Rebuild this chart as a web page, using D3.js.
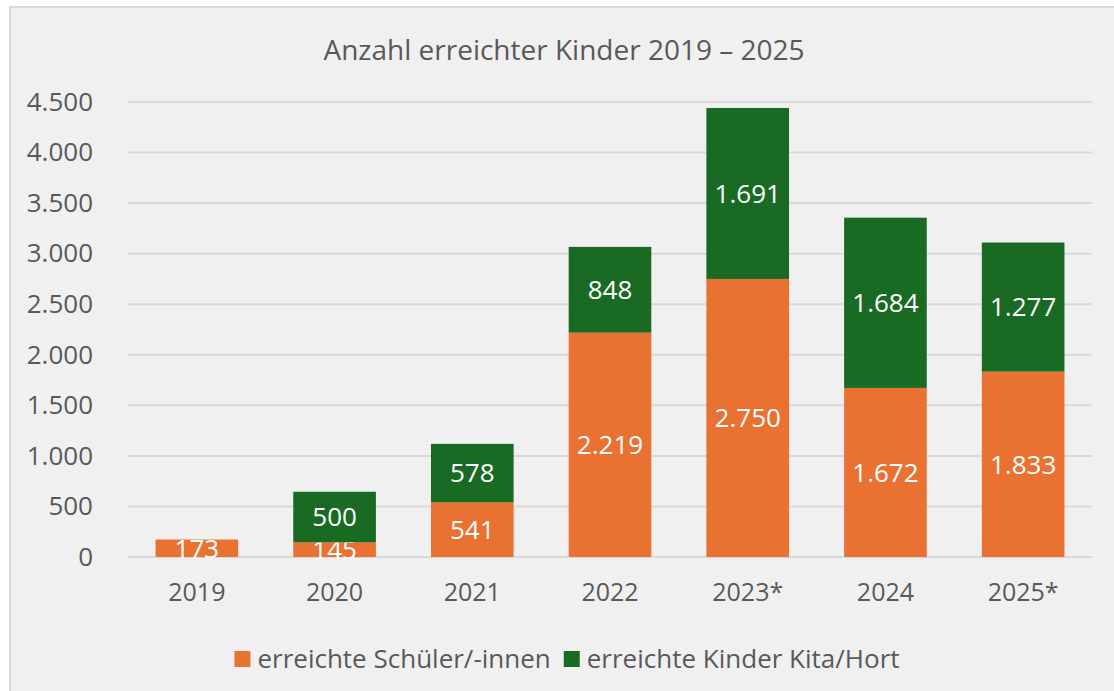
<!DOCTYPE html>
<html>
<head>
<meta charset="utf-8">
<script src="https://cdn.jsdelivr.net/npm/d3@7"></script>
<style>
  body { margin: 0; background: #ffffff; }
  text { font-family: "Open Sans", "Noto Sans", sans-serif; }
</style>
</head>
<body>
<div id="chart"></div>
<script>
// data
var years = ["2019", "2020", "2021", "2022", "2023*", "2024", "2025*"];
var schueler = [173, 145, 541, 2219, 2750, 1672, 1833];
var kita = [0, 500, 578, 848, 1691, 1684, 1277];
var yTicks = [0, 500, 1000, 1500, 2000, 2500, 3000, 3500, 4000, 4500];
var seriesNames = ["erreichte Schüler/-innen", "erreichte Kinder Kita/Hort"];
var colors = ["#E97132", "#196B24"];

var W = 1114, H = 691;
var margin = {top: 102, right: 22, bottom: 134, left: 128};
var width = W - margin.left - margin.right,
    height = H - margin.top - margin.bottom;

var fmt = d3.formatLocale({decimal: ",", thousands: ".", grouping: [3], currency: ["", "€"]}).format(",.0f");

var svg = d3.select("#chart").append("svg")
  .attr("width", W)
  .attr("height", H);

// chart area with border
svg.append("rect")
  .attr("x", 10).attr("y", 7)
  .attr("width", W + 10).attr("height", H + 10)
  .attr("fill", "#F0F0F0")
  .attr("stroke", "#D9D9D9")
  .attr("stroke-width", 2);

svg.append("text")
  .attr("x", 564).attr("y", 60)
  .attr("text-anchor", "middle")
  .attr("fill", "#595959")
  .attr("font-size", "28px")
  .text("Anzahl erreichter Kinder 2019 – 2025");

const g = svg.append("g")
  .attr("transform", `translate(${margin.left},${margin.top})`);

var x = d3.scaleBand()
  .domain(years)
  .range([0, width])
  .paddingInner(0.4)
  .paddingOuter(0.2);

var y = d3.scaleLinear()
  .domain([0, 4500])
  .range([height, 0]);

// gridlines
g.append("g")
  .selectAll("line")
  .data(yTicks)
  .join("line")
  .attr("x1", 0).attr("x2", width)
  .attr("y1", d => y(d)).attr("y2", d => y(d))
  .attr("stroke", "#D9D9D9")
  .attr("stroke-width", 2);

// y axis labels
const yAxis = g.append("g")
  .call(d3.axisLeft(y).tickValues(yTicks).tickFormat(fmt).tickSize(0).tickPadding(35));
yAxis.select(".domain").remove();
yAxis.selectAll("text")
  .attr("fill", "#595959")
  .style("font-size", "26px")
  .style("font-family", "Open Sans, sans-serif");

// x axis labels
const xAxis = g.append("g")
  .attr("transform", `translate(0,${height})`)
  .call(d3.axisBottom(x).tickSize(0).tickPadding(26));
xAxis.select(".domain").remove();
xAxis.selectAll("text")
  .attr("fill", "#595959")
  .style("font-size", "25px")
  .style("font-family", "Open Sans, sans-serif");

// stacked data
var rows = years.map((yr, i) => ({year: yr, s: schueler[i], k: kita[i]}));
var stacked = d3.stack().keys(["s", "k"])(rows);

const layers = g.selectAll(".layer")
  .data(stacked)
  .join("g")
  .attr("class", "layer")
  .attr("fill", (d, i) => colors[i]);

layers.selectAll("rect")
  .data(d => d.filter(p => p[1] > p[0]))
  .join("rect")
  .attr("x", d => x(d.data.year))
  .attr("y", d => y(d[1]))
  .attr("width", x.bandwidth())
  .attr("height", d => y(d[0]) - y(d[1]));

layers.selectAll("text")
  .data(d => d.filter(p => p[1] > p[0]))
  .join("text")
  .attr("x", d => x(d.data.year) + x.bandwidth() / 2)
  .attr("y", d => (y(d[0]) + y(d[1])) / 2)
  .attr("dy", "0.36em")
  .attr("text-anchor", "middle")
  .attr("fill", "#ffffff")
  .attr("font-size", "26px")
  .text(d => fmt(d[1] - d[0]));

// legend, centred under the chart
var legend = svg.append("g")
  .attr("transform", "translate(0,651)");
var items = legend.selectAll("g")
  .data(seriesNames)
  .join("g");
items.append("rect")
  .attr("width", 16).attr("height", 16)
  .attr("fill", (d, i) => colors[i]);
items.append("text")
  .attr("x", 23).attr("y", 8)
  .attr("dy", "0.36em")
  .attr("fill", "#595959")
  .attr("font-size", "26px")
  .text(d => d);

var widths = [];
items.each(function() { widths.push(23 + this.querySelector("text").getComputedTextLength()); });
var gap = 13;
var total = d3.sum(widths) + gap * (widths.length - 1);
var cx = 567 - total / 2;
items.attr("transform", (d, i) => {
  var off = cx + d3.sum(widths.slice(0, i)) + gap * i;
  return `translate(${off},0)`;
});
</script>
</body>
</html>
